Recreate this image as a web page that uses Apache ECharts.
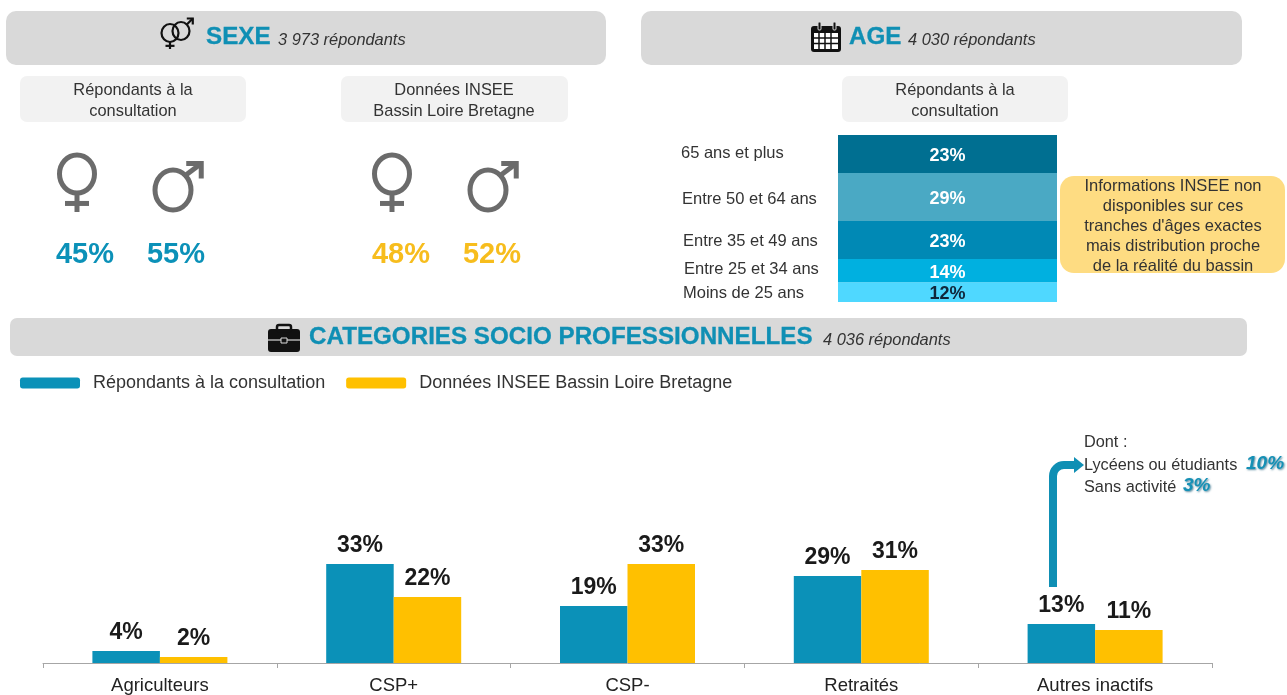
<!DOCTYPE html>
<html><head><meta charset="utf-8">
<style>html,body{margin:0;padding:0;background:#fff}#c{width:1287px;height:695px}</style>
<script src="https://cdn.jsdelivr.net/npm/echarts@6/dist/echarts.min.js"></script>
</head><body><div id="c"></div>
<script>
// DATA
const categories = ['Agriculteurs','CSP+','CSP-','Retraités','Autres inactifs'];
const seriesNames = ['Répondants à la consultation','Données INSEE Bassin Loire Bretagne'];
const repondants = [4,33,19,29,13];
const insee = [2,22,33,31,11];
const ageNames = ['Moins de 25 ans','Entre 25 et 34 ans','Entre 35 et 49 ans','Entre 50 et 64 ans','65 ans et plus'];
const ageValues = [12,14,23,29,23];
const sexeRepondants = ['45%','55%'];
const sexeInsee = ['48%','52%'];

const FONT = '"Liberation Sans", Arial, sans-serif';
const BLUE='#0b91b8', YEL='#ffc000', TITLE='#0f8fb4', GREY='#6b6b6b';
const ageColors = ['#4fd8ff','#00b0e0','#0089b5','#4aa9c4','#006f91'];
const ageLabelColors = ['#10263a','#fff','#fff','#fff','#fff'];
const ageLabelPos = [[683,293],[684,269],[683,241],[682,199],[681,153]];

const g = [];
const panel=(x,y,w,h,r,fill,z)=>g.push({type:'rect',z:z||1,shape:{x,y,width:w,height:h,r},style:{fill}});
const txt=(x,y,t,o)=>g.push({type:'text',z:5,x,y,style:Object.assign({text:t,fontFamily:FONT,fontSize:15,fill:'#262626',align:'left',verticalAlign:'middle'},o||{})});

// header panels
panel(6,11,600,54,10,'#d9d9d9');
panel(641,11,601,54,10,'#d9d9d9');
panel(10,318,1237,38,7,'#d9d9d9');
panel(20,76,226,46,7,'#f2f2f2');
panel(341,76,227,46,7,'#f2f2f2');
panel(842,76,226,46,7,'#f2f2f2');
panel(1060,176,225,97,14,'#fedc82');

// titles
const T={fontWeight:'bold',fontSize:24.2,fill:TITLE,stroke:TITLE,lineWidth:0.3};
const I={fontStyle:'italic',fontSize:16.4,fill:'#333'};
txt(206,37,'SEXE',T); txt(278,40,'3 973 répondants',I);
txt(849,37,'AGE',T); txt(908,40,'4 030 répondants',I);
txt(309,337,'CATEGORIES SOCIO PROFESSIONNELLES',T); txt(823,340,'4 036 répondants',I);

// sub panel texts
const C={align:'center',fontSize:16.4,fill:'#333',lineHeight:21};
txt(133,100.5,'Répondants à la\nconsultation',C);
txt(454,100.5,'Données INSEE\nBassin Loire Bretagne',C);
txt(955,100.5,'Répondants à la\nconsultation',C);
txt(1173,226.5,"Informations INSEE non\ndisponibles sur ces\ntranches d'âges exactes\nmais distribution proche\nde la réalité du bassin",{align:'center',fontSize:16.5,fill:'#333',lineHeight:20});

// gender symbols
function venus(cx,cy,col,lw,rx,ry,len,bar){
  g.push({type:'ellipse',z:4,shape:{cx,cy,rx,ry},style:{fill:'none',stroke:col,lineWidth:lw}});
  g.push({type:'line',z:4,shape:{x1:cx,y1:cy+ry,x2:cx,y2:cy+ry+len},style:{stroke:col,lineWidth:lw}});
  g.push({type:'line',z:4,shape:{x1:cx-bar,y1:cy+ry+len*0.55,x2:cx+bar,y2:cy+ry+len*0.55},style:{stroke:col,lineWidth:lw}});
}
function mars(cx,cy,col,lw,rx,ry,dx,dy,head){
  g.push({type:'ellipse',z:4,shape:{cx,cy,rx,ry},style:{fill:'none',stroke:col,lineWidth:lw}});
  const sx=cx+rx*0.68, sy=cy-ry*0.72, ex=sx+dx, ey=sy-dy;
  g.push({type:'line',z:4,shape:{x1:sx,y1:sy,x2:ex,y2:ey},style:{stroke:col,lineWidth:lw}});
  g.push({type:'polyline',z:4,shape:{points:[[ex-head,ey],[ex,ey],[ex,ey+head]]},style:{fill:'none',stroke:col,lineWidth:lw}});
}
[0,315].forEach(o=>{
  venus(77+o,174,GREY,5,17.5,19,19,12);
  mars(173+o,190,GREY,5,18,20,16,12,15);
});
// title icon
venus(170,33,'#111',2.2,8.5,9,7,4.5);
mars(181,31,'#111',2.2,8.5,9,6,6,6);

// percents
const P=(c)=>({align:'center',fontSize:29,fontWeight:'bold',fill:c});
txt(85,255,sexeRepondants[0],P(BLUE)); txt(176,255,sexeRepondants[1],P(BLUE));
txt(401,255,sexeInsee[0],P('#f7bd1d')); txt(492,255,sexeInsee[1],P('#f7bd1d'));

// calendar icon
panel(811,26,30,26,3,'#111',4);
g.push({type:'rect',z:4,shape:{x:814,y:33,width:24,height:16},style:{fill:'#fff'}});
[819,825,831].forEach(x=>g.push({type:'line',z:4,shape:{x1:x,y1:33,x2:x,y2:49},style:{stroke:'#111',lineWidth:1.5}}));
[38,43.5].forEach(y=>g.push({type:'line',z:4,shape:{x1:814,y1:y,x2:838,y2:y},style:{stroke:'#111',lineWidth:1.5}}));
[818,833].forEach(x=>g.push({type:'rect',z:4,shape:{x,y:22,width:3,height:8,r:1},style:{fill:'#111',stroke:'#d9d9d9',lineWidth:1}}));

// briefcase icon
panel(268,329,32,23,3,'#111',4);
g.push({type:'rect',z:4,shape:{x:277,y:325,width:14,height:6,r:2},style:{fill:'none',stroke:'#111',lineWidth:2.5}});
g.push({type:'line',z:4,shape:{x1:268,y1:340,x2:300,y2:340},style:{stroke:'#d9d9d9',lineWidth:1.2}});
g.push({type:'rect',z:4,shape:{x:281,y:338,width:6,height:5},style:{fill:'#111',stroke:'#d9d9d9',lineWidth:1}});

// age labels
ageNames.forEach((n,i)=>txt(ageLabelPos[i][0],ageLabelPos[i][1],n,{fontSize:16.5,fill:'#333'}));

// arrow + note
g.push({type:'line',z:4,shape:{x1:1053,y1:587,x2:1053,y2:476},style:{stroke:'#0f8fb4',lineWidth:8}});
g.push({type:'arc',z:4,shape:{cx:1064,cy:476,r:11,startAngle:Math.PI,endAngle:Math.PI*1.5,clockwise:true},style:{fill:'none',stroke:'#0f8fb4',lineWidth:8}});
g.push({type:'line',z:4,shape:{x1:1064,y1:465,x2:1076,y2:465},style:{stroke:'#0f8fb4',lineWidth:8}});
g.push({type:'polygon',z:4,shape:{points:[[1074,457],[1084,465],[1074,473]]},style:{fill:'#0f8fb4'}});
const N={fontSize:16.3,fill:'#333'};
const V={fontSize:19,fontWeight:'bold',fontStyle:'italic',fill:'#1590b5',textShadowColor:'rgba(20,90,120,0.7)',textShadowBlur:2,textShadowOffsetX:1,textShadowOffsetY:1};
txt(1084,443,'Dont :',N);
txt(1084,466,'Lycéens ou étudiants',N); txt(1246,464,'10%',V);
txt(1084,488,'Sans activité',N); txt(1183,486,'3%',V);

const barLabel={show:true,position:'top',distance:7,fontFamily:FONT,fontSize:23,fontWeight:'bold',color:'#1a1a1a',formatter:p=>p.value+'%'};
const series=[
 {name:seriesNames[0],type:'bar',xAxisIndex:0,yAxisIndex:0,data:repondants,barWidth:67.5,barGap:0,itemStyle:{color:BLUE},label:barLabel,silent:true},
 {name:seriesNames[1],type:'bar',xAxisIndex:0,yAxisIndex:0,data:insee,barWidth:67.5,barGap:0,itemStyle:{color:YEL},label:barLabel,silent:true}
];
ageNames.forEach((n,i)=>series.push({name:n,type:'bar',stack:'age',xAxisIndex:1,yAxisIndex:1,barWidth:'100%',data:[ageValues[i]],itemStyle:{color:ageColors[i]},
  label:{show:true,position:'inside',offset:[0,2],fontFamily:FONT,fontSize:18,fontWeight:'bold',color:ageLabelColors[i],formatter:p=>p.value+'%'},silent:true}));

const chart=echarts.init(document.getElementById('c'),null,{renderer:'canvas'});
chart.setOption({
 animation:false,backgroundColor:'#fff',
 textStyle:{fontFamily:FONT},
 legend:{data:seriesNames,left:15,top:369,itemWidth:60,itemHeight:11,itemGap:21,icon:'roundRect',
   textStyle:{fontFamily:FONT,fontSize:18,color:'#333',padding:[0,0,0,8]}},
 grid:[{left:43,top:543,width:1169,height:120},{left:838,top:135,width:219,height:167}],
 xAxis:[
  {type:'category',gridIndex:0,data:categories,axisLine:{lineStyle:{color:'#a6a6a6'}},axisTick:{show:true,length:5,lineStyle:{color:'#a6a6a6'}},axisLabel:{fontFamily:FONT,fontSize:18.5,color:'#222',margin:13,interval:0}},
  {type:'category',gridIndex:1,data:['Age'],show:false}
 ],
 yAxis:[
  {type:'value',gridIndex:0,min:0,max:40,show:false,splitLine:{show:false}},
  {type:'value',gridIndex:1,min:0,max:101,show:false,splitLine:{show:false}}
 ],
 series,
 graphic:{elements:g}
});
</script></body></html>
